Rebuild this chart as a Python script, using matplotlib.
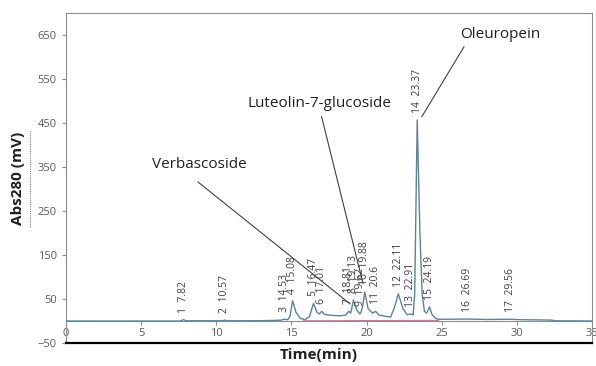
import numpy as np
import matplotlib
matplotlib.use("Agg")
import matplotlib.pyplot as plt
from matplotlib.lines import Line2D

### Data ###
# trace (time in min, signal in mV)
trace_t = [0, 7.6, 7.75, 7.82, 7.95, 8.1, 10.4, 10.57, 10.75, 12.0, 13.5, 14.3,
           14.53, 14.75, 14.9, 15.08, 15.3, 15.6, 15.9, 16.2, 16.47, 16.7, 16.85,
           17.01, 17.2, 17.6, 18.2, 18.6, 18.81, 18.95, 19.13, 19.35, 19.55, 19.62,
           19.75, 19.88, 20.1, 20.4, 20.6, 20.8, 21.2, 21.6, 21.85, 22.11, 22.4,
           22.7, 22.91, 23.1, 23.2, 23.37, 23.55, 23.7, 23.85, 24.0, 24.19, 24.35,
           24.6, 24.8, 25.5, 26.69, 28.0, 29.56, 30.3, 31.5, 32.3, 32.6, 35]
trace_v = [0, 0, 2, 3, 1, 0.5, 0.5, 2, 0.5, 0.5, 1, 2,
           4, 3, 10, 46, 20, 6, 3, 10, 40, 20, 16,
           22, 15, 13, 12, 13, 22, 18, 48, 25, 16, 18,
           35, 66, 28, 18, 22, 14, 11, 9, 30, 62, 30,
           14, 16, 14, 60, 457, 200, 60, 22, 18, 32, 15,
           6, 4, 4, 4.5, 3.5, 4, 3, 2.5, 2, 0.5, 0]

# integrated peaks
peak_no = list(range(1, 18))
peak_t = [7.82, 10.57, 14.53, 15.08, 16.47, 17.01, 18.81, 19.13, 19.62,
          19.88, 20.6, 22.11, 22.91, 23.37, 24.19, 26.69, 29.56]
peak_h = [3, 2, 4, 46, 40, 22, 22, 48, 18, 66, 22, 62, 16, 457, 32, 4.5, 4]

# integration baseline
base_t = [15.8, 24.8]
base_v = [0.5, 1.5]

xticks = [0, 5, 10, 15, 20, 25, 30, 35]
yticks = [-50, 50, 150, 250, 350, 450, 550, 650]

### Plot ###
fig = plt.figure(figsize=(5.96, 3.66), dpi=100)
ax = fig.add_axes([0.1107, 0.0628, 0.8826, 0.9017])

ax.plot(trace_t, trace_v, color="#5b8499", lw=1.0, zorder=3)
ax.plot(base_t, base_v, color="#c27a92", lw=0.8, zorder=2)

for n, t, h in zip(peak_no, peak_t, peak_h):
    ax.annotate(f"{n}  {t}", (t, h), xytext=(0, 5), textcoords="offset points",
                rotation=90, ha="center", va="bottom", fontsize=7.5,
                color="#404040", family="Open Sans")

tfont = dict(fontsize=11, color="#202020", family="Open Sans", ha="center", va="center")
ax.text(8.85, 355, "Verbascoside", **tfont)
ax.plot([8.78, 18.9], [316, 39], color="#404040", lw=0.8)
ax.text(16.9, 495, "Luteolin-7-glucoside", **tfont)
ax.plot([17.01, 19.76], [464, 86], color="#404040", lw=0.8)
ax.text(28.88, 652, "Oleuropein", **tfont)
ax.plot([26.48, 23.67], [623, 464], color="#404040", lw=0.8)

ax.set_xlim(0, 35)
ax.set_ylim(-50, 700)
ax.set_xticks(xticks)
ax.set_yticks(yticks)

ax.spines["bottom"].set_position(("data", 0))
for s in ["bottom", "top", "right", "left"]:
    ax.spines[s].set_color("#8c8c8c")
    ax.spines[s].set_linewidth(0.8)
ax.axhline(-50, color="black", lw=1.6, clip_on=False, zorder=4)

ax.tick_params(axis="both", length=3, width=0.8, color="#8c8c8c",
               labelsize=8, labelcolor="#595959")
ax.tick_params(axis="x", pad=2)
for lab in ax.get_xticklabels() + ax.get_yticklabels():
    lab.set_family("Open Sans")

ax.set_ylabel("Abs280 (mV)", fontsize=11, fontweight="bold", family="Open Sans",
              color="#202020", labelpad=8)
ax.yaxis.set_label_coords(-0.078, 0.5)
fig.text(0.534, 0.03, "Time(min)", fontsize=11, fontweight="bold",
         family="Open Sans", color="#202020", ha="center", va="center")

# spell-check style underline next to the y label
fig.add_artist(Line2D([0.051, 0.051], [0.38, 0.645], color="#808080",
                      lw=0.8, ls=(0, (1, 1))))

fig.savefig("out.png", dpi=100)
